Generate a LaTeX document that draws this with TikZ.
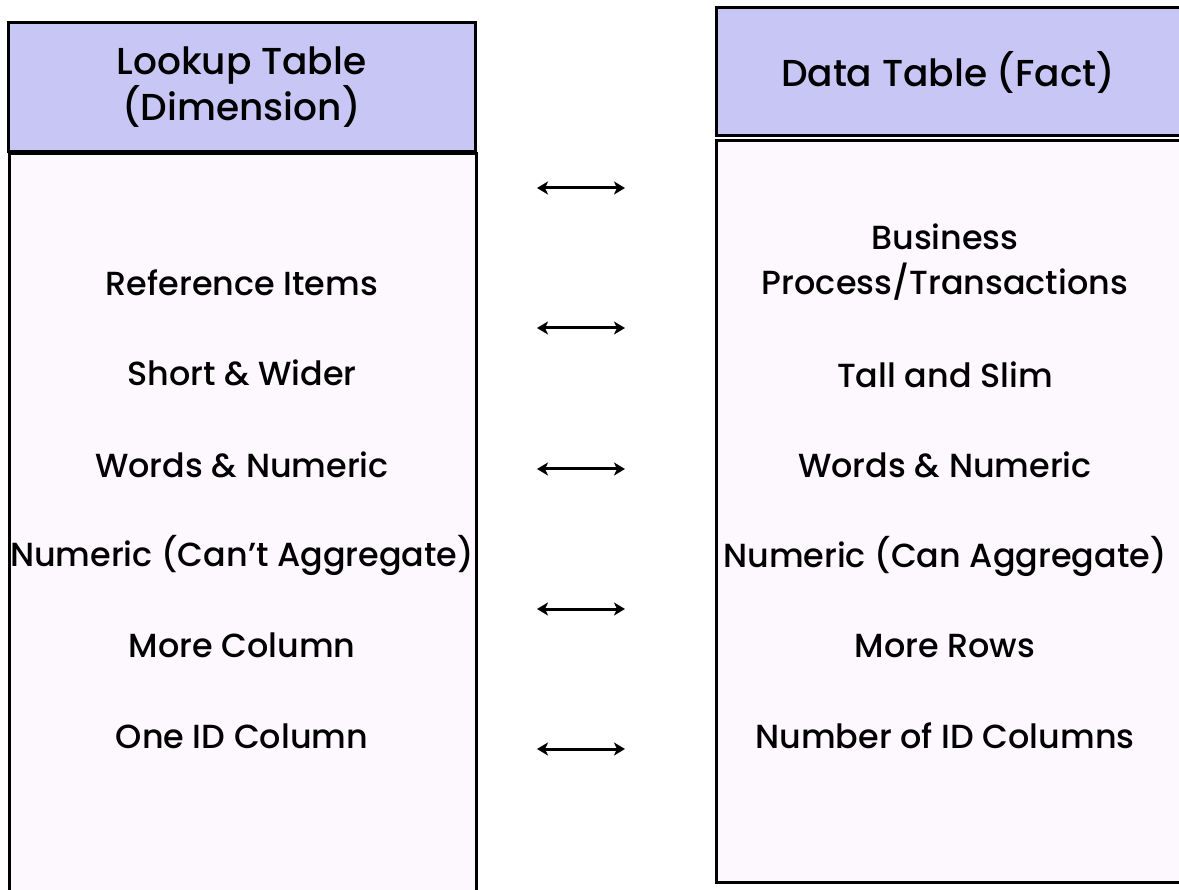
\documentclass[tikz,border=0pt]{standalone}
\usepackage{fontspec}
\setmainfont{Poppins Medium}
\usetikzlibrary{arrows.meta}
\definecolor{headfill}{RGB}{200,198,244}
\definecolor{bodyfill}{RGB}{253,248,253}

\begin{document}
\begin{tikzpicture}[x=1pt,y=-1pt]
    \tikzstyle{table box}=[draw=black,line width=3pt,inner sep=0pt]
    \tikzstyle{head box}=[table box,fill=headfill,align=center,font=\fontsize{37.5}{42}\selectfont]
    \tikzstyle{body box}=[table box,fill=bodyfill]
    \tikzstyle{item}=[align=center,font=\fontsize{33.4}{45}\selectfont]
    \tikzstyle{link}=[{Stealth[length=11pt,width=13pt,inset=3pt]}-{Stealth[length=11pt,width=13pt,inset=3pt]},line width=3pt]

    \clip (0,0) rectangle (1179,890);
    \useasboundingbox (0,0) rectangle (1179,890);

    % Draw the lookup table
    \node[body box,minimum width=467pt,minimum height=760pt] (LB) at (242.5,534) {};
    \node[head box,minimum width=467pt,minimum height=129pt] (LH) at (241.5,87.5)
        {Lookup Table\\(Dimension)};

    % Draw the data table
    \node[body box,minimum width=464pt,minimum height=741pt] (DB) at (948,511.5) {};
    \node[head box,minimum width=464pt,minimum height=128pt] (DH) at (948,72)
        {Data Table (Fact)};

    % Rows of the lookup table
    \foreach \name / \y / \txt in {1/283/Reference Items,2/373/Short \& Wider,
            3/465/Words \& Numeric,4/555/Numeric (Can't Aggregate),
            5/645/More Column,6/736/One ID Column}
        \node[item] (L-\name) at (242,\y) {\txt};

    % Rows of the data table
    \node[item] (D-1) at (945,262) {Business\\Process/Transactions};
    \foreach \name / \y / \txt in {2/375/Tall and Slim,3/465/Words \& Numeric,
            4/556/Numeric (Can Aggregate),5/646/More Rows,6/736/Number of ID Columns}
        \node[item] (D-\name) at (945,\y) {\txt};

    % Arrows between the tables
    \foreach \name / \y in {1/188,2/328,3/469,4/609,5/749} {
        \coordinate (A-\name) at (537,\y);
        \coordinate (B-\name) at (625,\y);
        \draw[link] (A-\name) -- (B-\name);
    }
\end{tikzpicture}
\end{document}
